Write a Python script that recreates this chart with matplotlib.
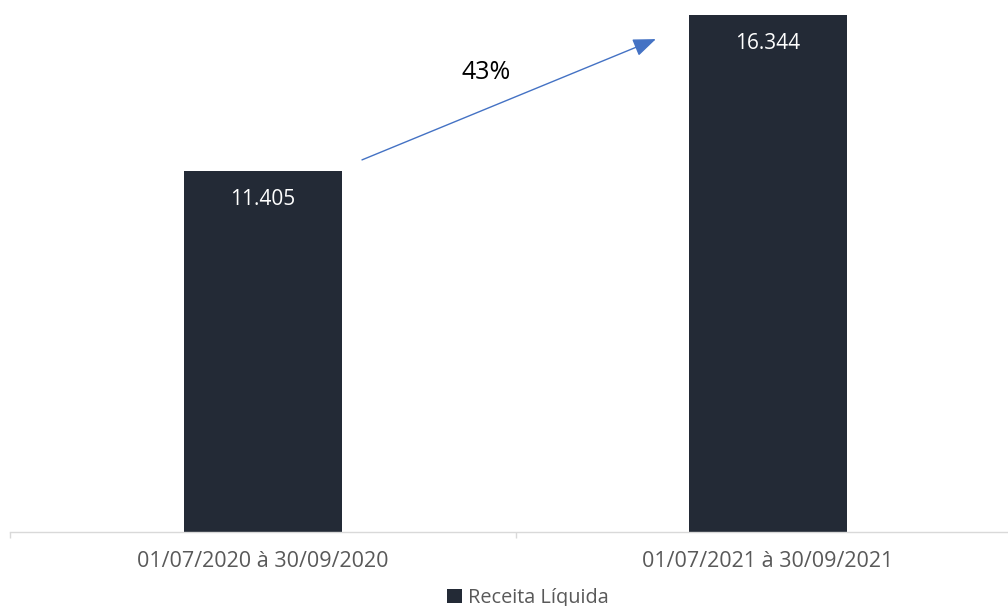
"""Receita Líquida: 3º trimestre 2020 vs 2021."""
import matplotlib
matplotlib.use("Agg")
import matplotlib.pyplot as plt

plt.rcParams["font.family"] = ["Open Sans", "DejaVu Sans"]

periods = ["01/07/2020 à 30/09/2020", "01/07/2021 à 30/09/2021"]
receita = [11405, 16344]
value_labels = ["11.405", "16.344"]
series_name = "Receita Líquida"

BAR_COLOR = "#232a36"
ARROW_COLOR = "#4472c4"
GRID_GRAY = "#d9d9d9"
TEXT_GRAY = "#595959"

W, H, DPI = 1008, 606, 100
fig = plt.figure(figsize=(W / DPI, H / DPI), dpi=DPI)
# axes placed in pixels: baseline at y=532, categories 505 px wide
ax = fig.add_axes([10.5 / W, (H - 532) / H, 1010 / W, 532 / H])

x = list(range(len(periods)))
bars = ax.bar(x, receita, width=0.313, color=BAR_COLOR, label=series_name, zorder=2)

ax.set_xlim(-0.5, 1.5)
ax.set_ylim(0, 532 / 0.031645)

for spine in ["top", "right", "left"]:
    ax.spines[spine].set_visible(False)
ax.spines["bottom"].set_color(GRID_GRAY)
ax.spines["bottom"].set_linewidth(1.0)
ax.set_yticks([])

ax.set_xticks(x)
ax.set_xticklabels(periods, fontsize=15.5, color=TEXT_GRAY)
ax.tick_params(axis="x", which="major", length=0, pad=14)
ax.set_xticks([-0.5, 0.5, 1.5], minor=True)
ax.tick_params(axis="x", which="minor", length=4.5, width=1.0, color=GRID_GRAY)

# value labels inside the top of each bar
for xi, v, lab in zip(x, receita, value_labels):
    ax.annotate(lab, (xi, v), xytext=(0, -20.5), textcoords="offset points",
                ha="center", va="center", color="white", fontsize=15)

# growth arrow between the bars
growth = (receita[1] / receita[0] - 1) * 100
ax.annotate("", xy=(x[1] - 0.222, receita[1] * 0.953),
            xytext=(x[0] + 0.196, receita[0] * 1.031),
            arrowprops=dict(arrowstyle="-|>,head_length=1.4,head_width=0.55",
                        color=ARROW_COLOR, lw=1.0, shrinkA=0, shrinkB=0))
ax.text(0.442, receita[1] * 0.889, f"{growth:.0f}%", ha="center", va="center",
        fontsize=18, color="black")

fig.legend(handles=[bars], labels=[series_name], loc="center",
           bbox_to_anchor=(528 / W, 1 - 598 / H), frameon=False,
           fontsize=14.3, handlelength=0.75, handleheight=0.75,
           handletextpad=0.3, borderpad=0, labelcolor=TEXT_GRAY)

fig.savefig("out.png", dpi=DPI)
